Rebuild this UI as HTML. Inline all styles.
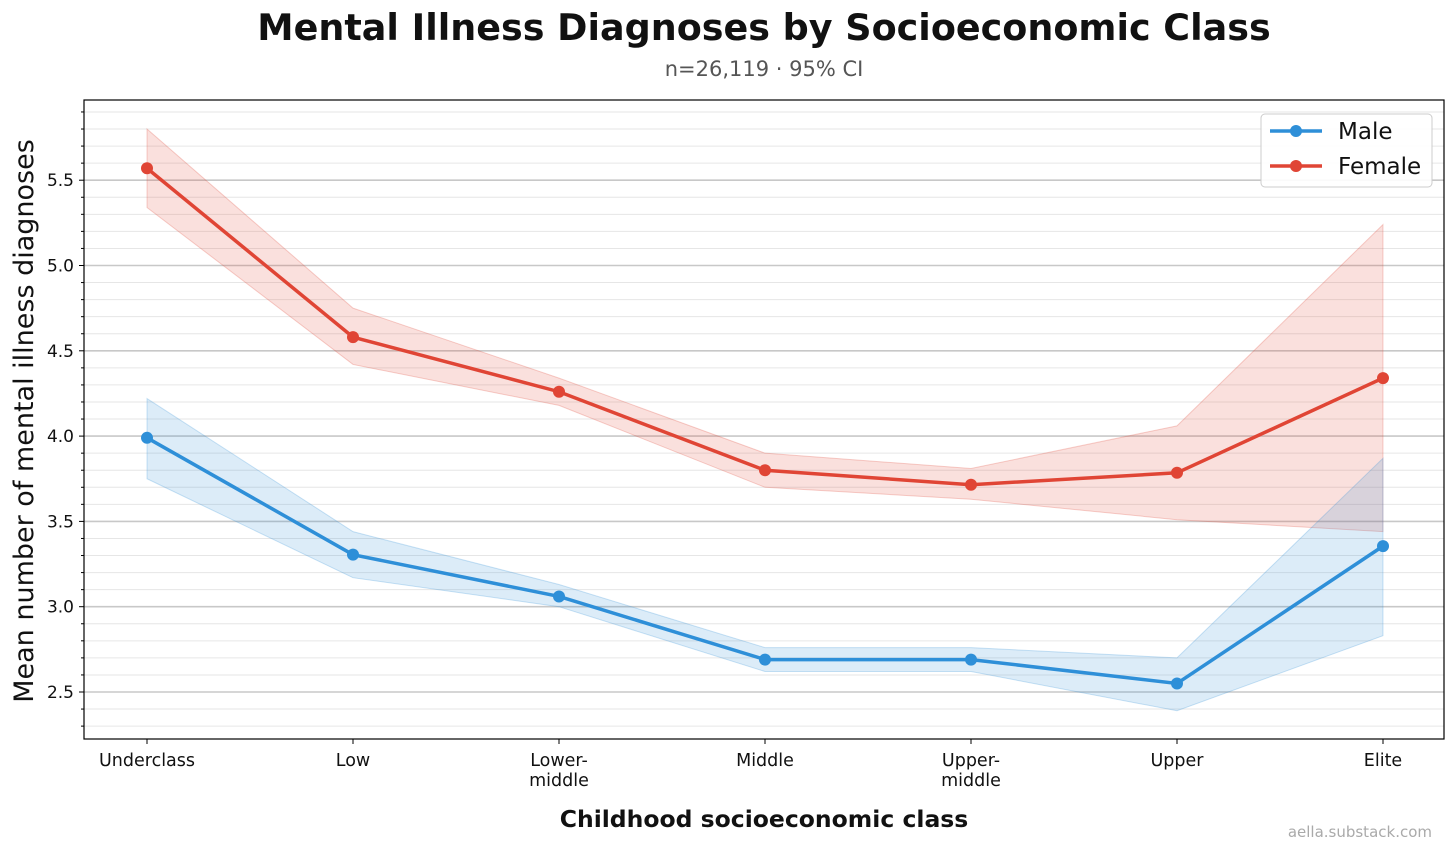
<!DOCTYPE html>
<html><head><meta charset="utf-8">
<style>
body{margin:0;background:#fff;font-family:"Liberation Sans","DejaVu Sans",sans-serif;}
svg text{font-family:"DejaVu Sans","Liberation Sans",sans-serif;}
</style></head>
<body>
<svg id="chart" width="1456" height="853" xmlns="http://www.w3.org/2000/svg">
<text x="764" y="40" text-anchor="middle" font-size="36.5" font-weight="bold" fill="#111">Mental Illness Diagnoses by Socioeconomic Class</text>
<text x="764" y="76" text-anchor="middle" font-size="21" fill="#555">n=26,119 · 95% CI</text>
<g id="grid"></g>
<g id="bands"></g>
<g id="lines"></g>
<rect x="84" y="100" width="1360" height="639" fill="none" stroke="#000" stroke-width="1.2"/>
<g id="axes"></g>
<text transform="translate(33,421) rotate(-90)" text-anchor="middle" font-size="27" fill="#111">Mean number of mental illness diagnoses</text>
<text x="764" y="827" text-anchor="middle" font-size="23.5" font-weight="bold" fill="#111">Childhood socioeconomic class</text>
<text x="1432" y="837" text-anchor="end" font-size="15" fill="#aaa">aella.substack.com</text>
<g>
<rect x="1261" y="114" width="171" height="73" rx="4" fill="#fff" fill-opacity="0.9" stroke="#ccc"/>
<g>
<line x1="1270" y1="131" x2="1322" y2="131" stroke="#2e8fd8" stroke-width="3.5"/><circle cx="1296" cy="131" r="6" fill="#2e8fd8"/>
<text x="1338" y="139" font-size="23" fill="#111">Male</text></g>
<g>
<line x1="1270" y1="166" x2="1322" y2="166" stroke="#e04535" stroke-width="3.5"/><circle cx="1296" cy="166" r="6" fill="#e04535"/>
<text x="1338" y="174" font-size="23" fill="#111">Female</text></g>
</g>
</svg>
<script>
const categories=["Underclass","Low","Lower-\nmiddle","Middle","Upper-\nmiddle","Upper","Elite"];
const femaleMean=[5.57,4.58,4.26,3.80,3.715,3.785,4.34];
const femaleLow=[5.34,4.42,4.18,3.70,3.63,3.51,3.44];
const femaleHigh=[5.80,4.75,4.34,3.90,3.81,4.06,5.24];
const maleMean=[3.99,3.305,3.06,2.69,2.69,2.55,3.355];
const maleLow=[3.75,3.17,3.00,2.62,2.62,2.39,2.83];
const maleHigh=[4.22,3.44,3.13,2.76,2.76,2.70,3.87];
const yTicks=[2.5,3.0,3.5,4.0,4.5,5.0,5.5];
const NS="http://www.w3.org/2000/svg";
const X=i=>147+i*206;
const Y=v=>692-(v-2.5)*170.6;
function mk(tag,attrs,parent){const e=document.createElementNS(NS,tag);for(const k in attrs)e.setAttribute(k,attrs[k]);parent.appendChild(e);return e;}
const grid=document.getElementById('grid'),axes=document.getElementById('axes'),bands=document.getElementById('bands'),lines=document.getElementById('lines');
for(let k=23;k<=59;k++){const v=k/10;const y=Y(v);if(y<100||y>739)continue;const major=Math.abs(v*2-Math.round(v*2))<1e-6;
 const l=mk('line',{x1:84,x2:1444,y1:y,y2:y,stroke:major?'#c8c8c8':'#e6e6e6','stroke-width':major?1.6:1},grid);
 
 
 mk('line',{x1:major?79:81,x2:84,y1:y,y2:y,stroke:'#000','stroke-width':1},axes);}
yTicks.forEach(v=>{const t=mk('text',{x:74,y:Y(v)+6,'text-anchor':'end','font-size':17,fill:'#111'},axes);t.textContent=v.toFixed(1);
 
 });
categories.forEach((c,i)=>{mk('line',{x1:X(i),x2:X(i),y1:739,y2:744,stroke:'#000'},axes);
 c.split('\n').forEach((s,j)=>{const t=mk('text',{x:X(i),y:766+j*20,'text-anchor':'middle','font-size':17.5,fill:'#111'},axes);t.textContent=s;
 
 });});
function series(mean,lo,hi,color,name){
 const pts=hi.map((v,i)=>X(i)+','+Y(v)).concat(lo.map((v,i)=>X(i)+','+Y(v)).reverse());
 const b=mk('polygon',{points:pts.join(' '),fill:color,'fill-opacity':0.17,stroke:color,'stroke-opacity':0.25},bands);
 
 
 const p=mk('polyline',{points:mean.map((v,i)=>X(i)+','+Y(v)).join(' '),fill:'none',stroke:color,'stroke-width':3.5},lines);
 
 
 mean.forEach((v,i)=>{const c=mk('circle',{cx:X(i),cy:Y(v),r:6,fill:color},lines);
 
 });
}
series(femaleMean,femaleLow,femaleHigh,'#e04535','female');
series(maleMean,maleLow,maleHigh,'#2e8fd8','male');
</script>
</body></html>
